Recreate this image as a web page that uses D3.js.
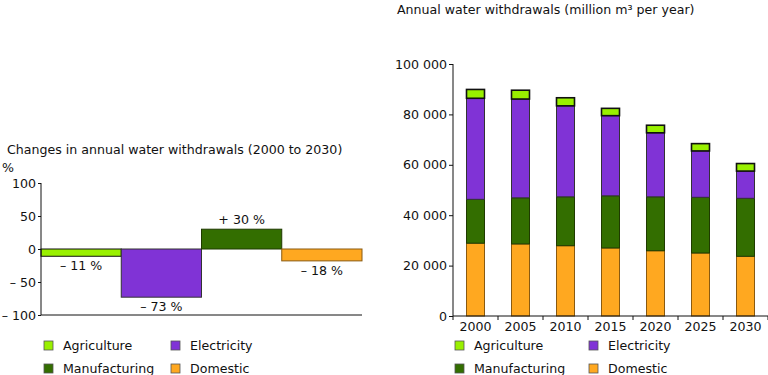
<!DOCTYPE html>
<html><head><meta charset="utf-8">
<script src="https://cdn.jsdelivr.net/npm/d3@7"></script>
<style>
body{margin:0;background:#fff;}
svg text{font-family:"DejaVu Sans",Verdana,sans-serif;fill:#111;}
</style></head>
<body><svg id="c" width="768" height="375"></svg>
<script>
const years = ["2000","2005","2010","2015","2020","2025","2030"];
const seriesNames = ["Domestic","Manufacturing","Electricity","Agriculture"];
const domestic      = [28900, 28600, 27900, 27000, 25900, 25000, 23700];
const manufacturing = [17400, 18300, 19400, 20700, 21400, 22100, 23000];
const electricity   = [40100, 39200, 36100, 31800, 25400, 18400, 10800];
const agriculture   = [3500, 3500, 3200, 2900, 3000, 2900, 3000];
const rightTicks = [0, 20000, 40000, 60000, 80000, 100000];

const changeCats = ["Agriculture","Electricity","Manufacturing","Domestic"];
const changeVals = [-11, -73, 30, -18];
const changeLabels = ["– 11 %","– 73 %","+ 30 %","– 18 %"];
const leftTicks = [-100, -50, 0, 50, 100];

const colors = {Agriculture:"#99f000", Electricity:"#8033d6", Manufacturing:"#336e00", Domestic:"#ffa820"};
const strokes = {Agriculture:"#111", Electricity:"#333", Manufacturing:"#1f3a00", Domestic:"#8a5a10"};
const FS = 12.6;

const svg = d3.select("#c");
const fmtNum = v => v < 0 ? "– " + Math.abs(v) : String(v);
const fmtK = v => d3.format(",")(v).replace(/,/g, " ");

// ---------- LEFT CHART ----------
const lx = d3.scaleBand().domain(changeCats).range([41, 362]).padding(0);
const ly = d3.scaleLinear().domain([-100, 100]).range([315, 183]);

svg.append("text").attr("x", 7).attr("y", 154).attr("font-size", FS).text("Changes in annual water withdrawals (2000 to 2030)");
svg.append("text").attr("x", 2).attr("y", 172).attr("font-size", FS).text("%");

const gl = svg.append("g");
gl.selectAll("rect").data(changeCats).join("rect")
  .attr("x", d => lx(d)).attr("width", lx.bandwidth())
  .attr("y", (d,i) => ly(Math.max(0, changeVals[i])))
  .attr("height", (d,i) => Math.abs(ly(changeVals[i]) - ly(0)))
  .attr("fill", d => colors[d]).attr("stroke", d => strokes[d]).attr("stroke-width", 1);

gl.selectAll("text.lab").data(changeCats).join("text").attr("class","lab")
  .attr("x", d => lx(d) + lx.bandwidth()/2)
  .attr("y", (d,i) => changeVals[i] >= 0 ? ly(changeVals[i]) - 5 : ly(changeVals[i]) + 14)
  .attr("text-anchor","middle").attr("font-size", FS)
  .text((d,i) => changeLabels[i]);

const lAxis = svg.append("g").attr("transform","translate(41,0)")
  .call(d3.axisLeft(ly).tickValues(leftTicks).tickSize(3).tickFormat(fmtNum));
lAxis.selectAll("text").attr("font-size", FS).attr("x", -5).attr("fill","#111").attr("font-family","DejaVu Sans, Verdana, sans-serif");
lAxis.selectAll("line").attr("stroke","#111");
lAxis.select(".domain").attr("stroke","#111").attr("d", `M0,${ly(100)}V${ly(-100)}`);
svg.append("line").attr("x1", 41).attr("x2", 362).attr("y1", ly(-100)).attr("y2", ly(-100)).attr("stroke","#111");

// ---------- RIGHT CHART ----------
const rx = d3.scaleBand().domain(years).range([453, 768]).paddingInner(0.6).paddingOuter(0.3);
const ry = d3.scaleLinear().domain([0, 100000]).range([316, 64]);

svg.append("text").attr("x", 397).attr("y", 14).attr("font-size", FS).text("Annual water withdrawals (million m³ per year)");

const tableRows = years.map((y,i) => ({year:y, Domestic:domestic[i], Manufacturing:manufacturing[i], Electricity:electricity[i], Agriculture:agriculture[i]}));
const stacked = d3.stack().keys(seriesNames)(tableRows);

const gr = svg.append("g");
stacked.forEach(layer => {
  gr.append("g").selectAll("rect").data(layer).join("rect")
    .attr("x", d => rx(d.data.year)).attr("width", rx.bandwidth())
    .attr("y", d => ry(d[1])).attr("height", d => ry(d[0]) - ry(d[1]))
    .attr("fill", colors[layer.key]).attr("stroke", strokes[layer.key])
    .attr("stroke-width", layer.key === "Agriculture" ? 1.6 : 1);
});

const rAxis = svg.append("g").attr("transform","translate(453,0)")
  .call(d3.axisLeft(ry).tickValues(rightTicks).tickSize(4).tickFormat(fmtK));
rAxis.selectAll("text").attr("font-size", FS).attr("x", -6).attr("fill","#111").attr("font-family","DejaVu Sans, Verdana, sans-serif");
rAxis.selectAll("line").attr("stroke","#111");
rAxis.select(".domain").attr("stroke","#111").attr("d", `M0,${ry(100000)}V${ry(0)}`);

const bAxis = svg.append("g").attr("transform",`translate(0,${ry(0)})`)
  .call(d3.axisBottom(rx).tickSize(0).tickPadding(6));
bAxis.selectAll("text").attr("font-size", FS).attr("fill","#111").attr("font-family","DejaVu Sans, Verdana, sans-serif");
bAxis.select(".domain").attr("stroke","#111").attr("d", "M453,0H768");
const step = rx.step();
const bounds = years.map(y => rx(y) + rx.bandwidth()/2 - step/2).concat([rx(years[years.length-1]) + rx.bandwidth()/2 + step/2]);
bAxis.selectAll("line.bt").data(bounds).join("line").attr("class","bt")
  .attr("x1", d => d).attr("x2", d => d).attr("y1", 0).attr("y2", 4).attr("stroke","#111");

// ---------- LEGENDS ----------
const legendItems = ["Agriculture","Electricity","Manufacturing","Domestic"];
function legend(x0, y0, colGap) {
  const g = svg.append("g").attr("transform", `translate(${x0},${y0})`);
  legendItems.forEach((k, i) => {
    const cx = (i % 2) * colGap, cy = Math.floor(i / 2) * 23;
    g.append("rect").attr("x", cx).attr("y", cy).attr("width", 9).attr("height", 9)
      .attr("fill", colors[k]).attr("stroke", "#555").attr("stroke-width", 0.8);
    g.append("text").attr("x", cx + 19).attr("y", cy + 9).attr("font-size", FS).text(k);
  });
}
legend(44, 341, 127);
legend(455, 341, 134);
</script></body></html>
